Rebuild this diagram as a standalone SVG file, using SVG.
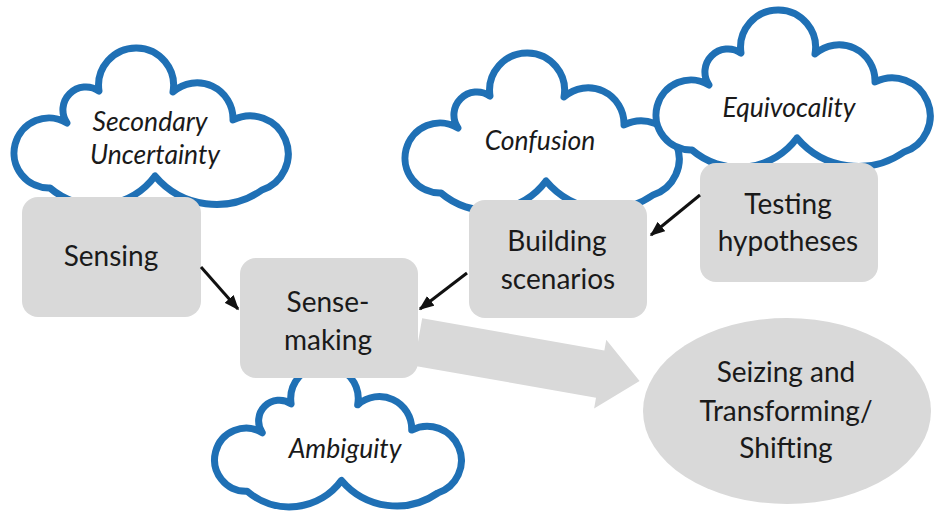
<svg xmlns="http://www.w3.org/2000/svg" xmlns:xlink="http://www.w3.org/1999/xlink" width="934" height="515" viewBox="0 0 934 515">
<style>
.cloud{fill:#fff;stroke:#1f70b5;stroke-width:7;stroke-linejoin:round}
.box{fill:#d9d9d9}
.lbl{font-family:Lato,"Open Sans","Liberation Sans",sans-serif;font-size:28px;fill:#1a1a1a;text-anchor:middle}
.it{font-family:Lato,"Open Sans","Liberation Sans",sans-serif;font-size:26.5px;font-style:italic;fill:#1a1a1a;text-anchor:middle}
.conn{stroke:#111;stroke-width:3;fill:none}
</style>
<defs>
<path id="cloudShape" d="M50,188 A35,35 0 1 1 67,123 A23,23 0 0 1 99,91 A37.5,37.5 0 1 1 173,92 A36,36 0 0 1 233,120 A38,38 0 1 1 262,190 A80,80 0 0 1 155,176 A72,72 0 0 1 50,188 Z"/>
<marker id="ah" viewBox="0 0 10 8" refX="9" refY="4" markerWidth="5" markerHeight="4" orient="auto" markerUnits="strokeWidth">
<path d="M0,0 L10,4 L0,8 Z" fill="#111"/>
</marker>
</defs>
<g id="cloud-secondary-uncertainty">
<use xlink:href="#cloudShape" class="cloud"/>
<text class="it" x="150" y="131">Secondary</text>
<text class="it" x="155" y="164">Uncertainty</text>
</g>
<g id="cloud-confusion">
<use xlink:href="#cloudShape" class="cloud" transform="translate(391,5)"/>
<text class="it" x="540" y="150">Confusion</text>
</g>
<g id="cloud-equivocality">
<use xlink:href="#cloudShape" class="cloud" transform="translate(642,-38)"/>
<text class="it" x="789" y="117">Equivocality</text>
</g>
<g id="cloud-ambiguity">
<use xlink:href="#cloudShape" class="cloud" transform="translate(202,322) scale(0.9)" style="stroke-width:7.8"/>
<text class="it" x="345" y="458">Ambiguity</text>
</g>
<g id="big-arrow">
<polygon class="box" transform="translate(418,342) rotate(10)" points="0,-24 185,-24 185,-35 225,0 185,35 185,24 0,24"/>
</g>
<g id="sensing">
<rect class="box" x="22" y="197" width="179" height="120" rx="16"/>
<text class="lbl" x="111" y="266">Sensing</text>
</g>
<g id="sense-making">
<rect class="box" x="240" y="258" width="178" height="120" rx="16"/>
<text class="lbl" x="328" y="312">Sense-</text>
<text class="lbl" x="328" y="350">making</text>
</g>
<g id="building-scenarios">
<rect class="box" x="469" y="200" width="178" height="118" rx="16"/>
<text class="lbl" x="557" y="251">Building</text>
<text class="lbl" x="558" y="289">scenarios</text>
</g>
<g id="testing-hypotheses">
<rect class="box" x="700" y="163" width="178" height="119" rx="16"/>
<text class="lbl" x="788" y="214">Testing</text>
<text class="lbl" x="788" y="251">hypotheses</text>
</g>
<g id="seizing">
<ellipse class="box" cx="787" cy="411" rx="144" ry="93"/>
<text class="lbl" x="786" y="382">Seizing and</text>
<text class="lbl" x="786" y="421">Transforming/</text>
<text class="lbl" x="786" y="458">Shifting</text>
</g>
<g id="connectors">
<line class="conn" x1="201" y1="267" x2="238" y2="309" marker-end="url(#ah)"/>
<line class="conn" x1="467" y1="273" x2="420" y2="309" marker-end="url(#ah)"/>
<line class="conn" x1="700" y1="195" x2="651" y2="235" marker-end="url(#ah)"/>
</g>
</svg>
